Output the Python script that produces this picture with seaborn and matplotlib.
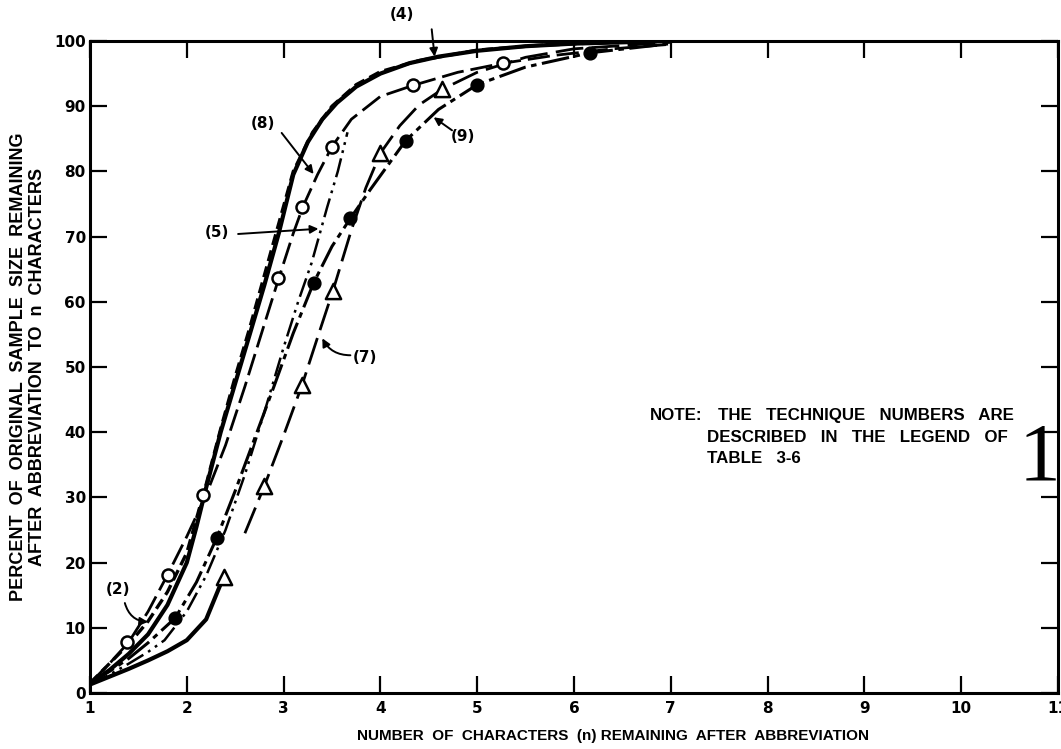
import matplotlib
matplotlib.use("Agg")
import matplotlib.pyplot as plt
import numpy as np
import seaborn as sns

# ---- curve data: n characters remaining vs. percent of sample remaining ----
n_t2 = [1.0, 1.2, 1.4, 1.6, 1.8, 2.0, 2.2, 2.35, 2.5, 2.65, 2.8, 2.95, 3.1, 3.3, 3.5, 3.75, 4.0, 4.4, 5.0, 5.6, 6.2, 7.0]
pct_t2 = [1.5, 4.5, 7.5, 11.0, 15.5, 21.5, 32.0, 40.5, 48.5, 56.0, 64.0, 72.0, 80.0, 86.0, 90.0, 93.3, 95.3, 97.0, 98.6, 99.3, 99.7, 100.0]

n_t4 = [1.0, 1.2, 1.4, 1.6, 1.8, 2.0, 2.1, 2.2, 2.35, 2.5, 2.65, 2.8, 2.95, 3.1, 3.25, 3.4, 3.55, 3.75, 4.0, 4.3, 4.6, 5.0, 5.5, 6.0, 6.5, 7.0]
pct_t4 = [1.5, 3.5, 6.0, 9.0, 13.5, 20.0, 25.5, 31.5, 40.0, 47.5, 55.0, 62.5, 70.5, 79.5, 84.5, 88.0, 90.5, 93.0, 95.0, 96.6, 97.6, 98.5, 99.2, 99.6, 99.8, 100.0]

n_t5 = [1.0, 1.2, 1.4, 1.6, 1.77, 2.0, 2.2, 2.4, 2.6, 2.8, 3.0, 3.15, 3.29, 3.45, 3.56, 3.66]
pct_t5 = [1.3, 2.8, 4.5, 6.3, 8.1, 12.5, 18.0, 25.0, 33.5, 43.0, 53.0, 60.0, 66.0, 74.5, 80.0, 86.0]

n_t7 = [1.0, 1.2, 1.4, 1.6, 1.8, 2.0, 2.2, 2.38, 2.6, 2.8, 3.0, 3.19, 3.35, 3.51, 3.7, 3.85, 4.0, 4.2, 4.4, 4.64, 5.0, 5.5, 6.0, 7.0]
pct_t7 = [1.3, 2.5, 3.7, 5.0, 6.4, 8.1, 11.3, 17.8, 24.5, 31.7, 39.5, 47.2, 54.5, 61.7, 71.0, 77.5, 82.8, 87.0, 90.2, 92.6, 95.2, 97.5, 98.8, 99.8]

n_t8 = [1.0, 1.2, 1.4, 1.6, 1.8, 2.0, 2.2, 2.4, 2.6, 2.8, 2.95, 3.1, 3.2, 3.35, 3.5, 3.7, 4.0, 4.34, 4.8, 5.27, 5.8, 6.4, 7.0]
pct_t8 = [1.5, 4.5, 7.8, 12.5, 18.1, 24.0, 30.4, 38.0, 47.0, 56.5, 63.6, 70.5, 74.6, 79.5, 83.8, 88.0, 91.5, 93.2, 95.2, 96.6, 97.8, 98.8, 99.5]

n_t9 = [1.0, 1.2, 1.4, 1.6, 1.88, 2.1, 2.31, 2.5, 2.7, 2.9, 3.1, 3.31, 3.5, 3.69, 3.9, 4.26, 4.6, 5.0, 5.5, 6.17, 7.0]
pct_t9 = [1.5, 3.3, 5.3, 7.7, 11.5, 17.0, 23.8, 31.0, 39.0, 47.0, 55.2, 62.9, 68.5, 72.8, 77.3, 84.7, 89.5, 93.3, 96.0, 98.2, 99.6]

# ---- plotted sample points ----
pts8_n = [1.38, 1.81, 2.17, 2.94, 3.19, 3.50, 4.34, 5.27]
pts8_pct = [7.8, 18.1, 30.4, 63.6, 74.6, 83.8, 93.2, 96.6]

pts9_n = [1.88, 2.31, 3.31, 3.69, 4.26, 5.00, 6.17]
pts9_pct = [11.5, 23.8, 62.9, 72.8, 84.7, 93.3, 98.2]

pts7_n = [2.38, 2.80, 3.19, 3.51, 4.00, 4.64]
pts7_pct = [17.8, 31.7, 47.2, 61.7, 82.8, 92.6]

# ---- axis text ----
x_ticks = list(range(1, 12))
y_ticks = list(range(0, 101, 10))
x_title = "NUMBER  OF  CHARACTERS  (n) REMAINING  AFTER  ABBREVIATION"
y_title = ("PERCENT  OF  ORIGINAL  SAMPLE  SIZE  REMAINING\n"
           "AFTER  ABBREVIATION  TO  n  CHARACTERS")

sns.set_style("ticks")
plt.rcParams.update({
    "font.family": ["DejaVu Sans"],
    "lines.scale_dashes": False,
    "text.color": "black",
    "axes.labelcolor": "black",
    "axes.edgecolor": "black",
    "axes.linewidth": 2.2,
    "xtick.color": "black",
    "ytick.color": "black",
    "xtick.labelcolor": "black",
    "ytick.labelcolor": "black",
})

W, H = 1061, 749
fig = plt.figure(figsize=(W / 100, H / 100), dpi=100)
fig.patch.set_facecolor("white")
ax = fig.add_axes([90 / W, (H - 693) / H, 968 / W, 652 / H])
ax.set_facecolor("white")


def curve(n, pct, lw, ls):
    sns.lineplot(x=n, y=pct, ax=ax, color="black", linewidth=lw, linestyle=ls,
                 sort=False, estimator=None, legend=False)


curve(n_t4, pct_t4, 3.0, "-")
curve(n_t2, pct_t2, 2.4, (0, (8, 4)))
curve(n_t8, pct_t8, 2.0, (0, (16, 5)))
curve(n_t9, pct_t9, 2.2, (0, (20, 4, 4, 4)))
curve(n_t5, pct_t5, 1.8, (0, (14, 4, 2, 4, 2, 4)))

# technique 7: heavy solid at low n, long dashes through the triangles
n7 = np.array(n_t7)
p7 = np.array(pct_t7)
low = n7 <= 2.38
curve(n7[low], p7[low], 3.0, "-")
curve(n7[~low], p7[~low], 2.0, (0, (20, 6)))

# sample points
sns.scatterplot(x=pts8_n, y=pts8_pct, ax=ax, marker="o", s=75, color="white",
                edgecolor="black", linewidth=1.8, zorder=5, legend=False)
sns.scatterplot(x=pts9_n, y=pts9_pct, ax=ax, marker="o", s=85, color="black",
                edgecolor="black", linewidth=1.0, zorder=5, legend=False)
sns.scatterplot(x=pts7_n, y=pts7_pct, ax=ax, marker="^", s=120, color="white",
                edgecolor="black", linewidth=1.8, zorder=5, legend=False)

ax.set_xlim(1, 11)
ax.set_ylim(0, 100)
ax.set_xticks(x_ticks)
ax.set_yticks(y_ticks)
ax.tick_params(direction="in", length=12, width=1.6, top=True, right=True,
               labeltop=False, labelright=False, labelsize=11,
               colors="black", labelcolor="black")
ax.tick_params(axis="x", pad=6)
ax.tick_params(axis="y", pad=3)
for lab in ax.get_xticklabels() + ax.get_yticklabels():
    lab.set_fontweight("bold")
for side in ax.spines.values():
    side.set_visible(True)
    side.set_linewidth(2.2)

ax.set_xlabel(x_title, fontsize=11, fontweight="bold", family="Liberation Sans",
              labelpad=9, color="black")
ax.xaxis.label.set_x(0.54)
ax.set_ylabel(y_title, fontsize=13, fontweight="bold", family="Liberation Sans",
              labelpad=6, multialignment="center", linespacing=1.1, color="black")

# technique labels with pointer arrows
labels = [
    ("(4)", (4.22, 104.0), (4.53, 101.8), (4.56, 97.6), 0.0),
    ("(8)", (2.79, 87.4), (2.98, 85.9), (3.31, 79.6), 0.0),
    ("(5)", (2.31, 70.6), (2.53, 70.4), (3.36, 71.2), 0.0),
    ("(7)", (3.84, 51.5), (3.69, 51.8), (3.40, 54.4), -0.3),
    ("(9)", (4.85, 85.3), (4.74, 86.3), (4.55, 88.3), 0.0),
    ("(2)", (1.29, 15.8), (1.36, 13.8), (1.60, 10.9), 0.35),
]
for txt, pos, tail, tip, rad in labels:
    ax.text(pos[0], pos[1], txt, ha="center", va="center", fontsize=11,
            fontweight="bold", color="black", clip_on=False)
    ax.annotate("", xy=tip, xytext=tail, annotation_clip=False,
                arrowprops=dict(arrowstyle="-|>", color="black", lw=1.4,
                                mutation_scale=12, shrinkA=0, shrinkB=0,
                                connectionstyle=f"arc3,rad={rad}"))

note_kw = dict(fontsize=12.2, fontweight="bold", family="Liberation Sans",
               va="baseline", ha="left", color="black")
fig.text(650 / W, 1 - 420 / H, "NOTE:", **note_kw)
fig.text(718 / W, 1 - 420 / H, "THE   TECHNIQUE   NUMBERS   ARE", **note_kw)
fig.text(707 / W, 1 - 442 / H, "DESCRIBED   IN   THE   LEGEND   OF", **note_kw)
fig.text(707 / W, 1 - 463 / H, "TABLE   3-6", **note_kw)

fig.text(1039 / W, 1 - 460 / H, "1", fontsize=60, family="Liberation Serif",
         ha="center", va="center", color="black")

fig.savefig("out.png", dpi=100, facecolor="white")
